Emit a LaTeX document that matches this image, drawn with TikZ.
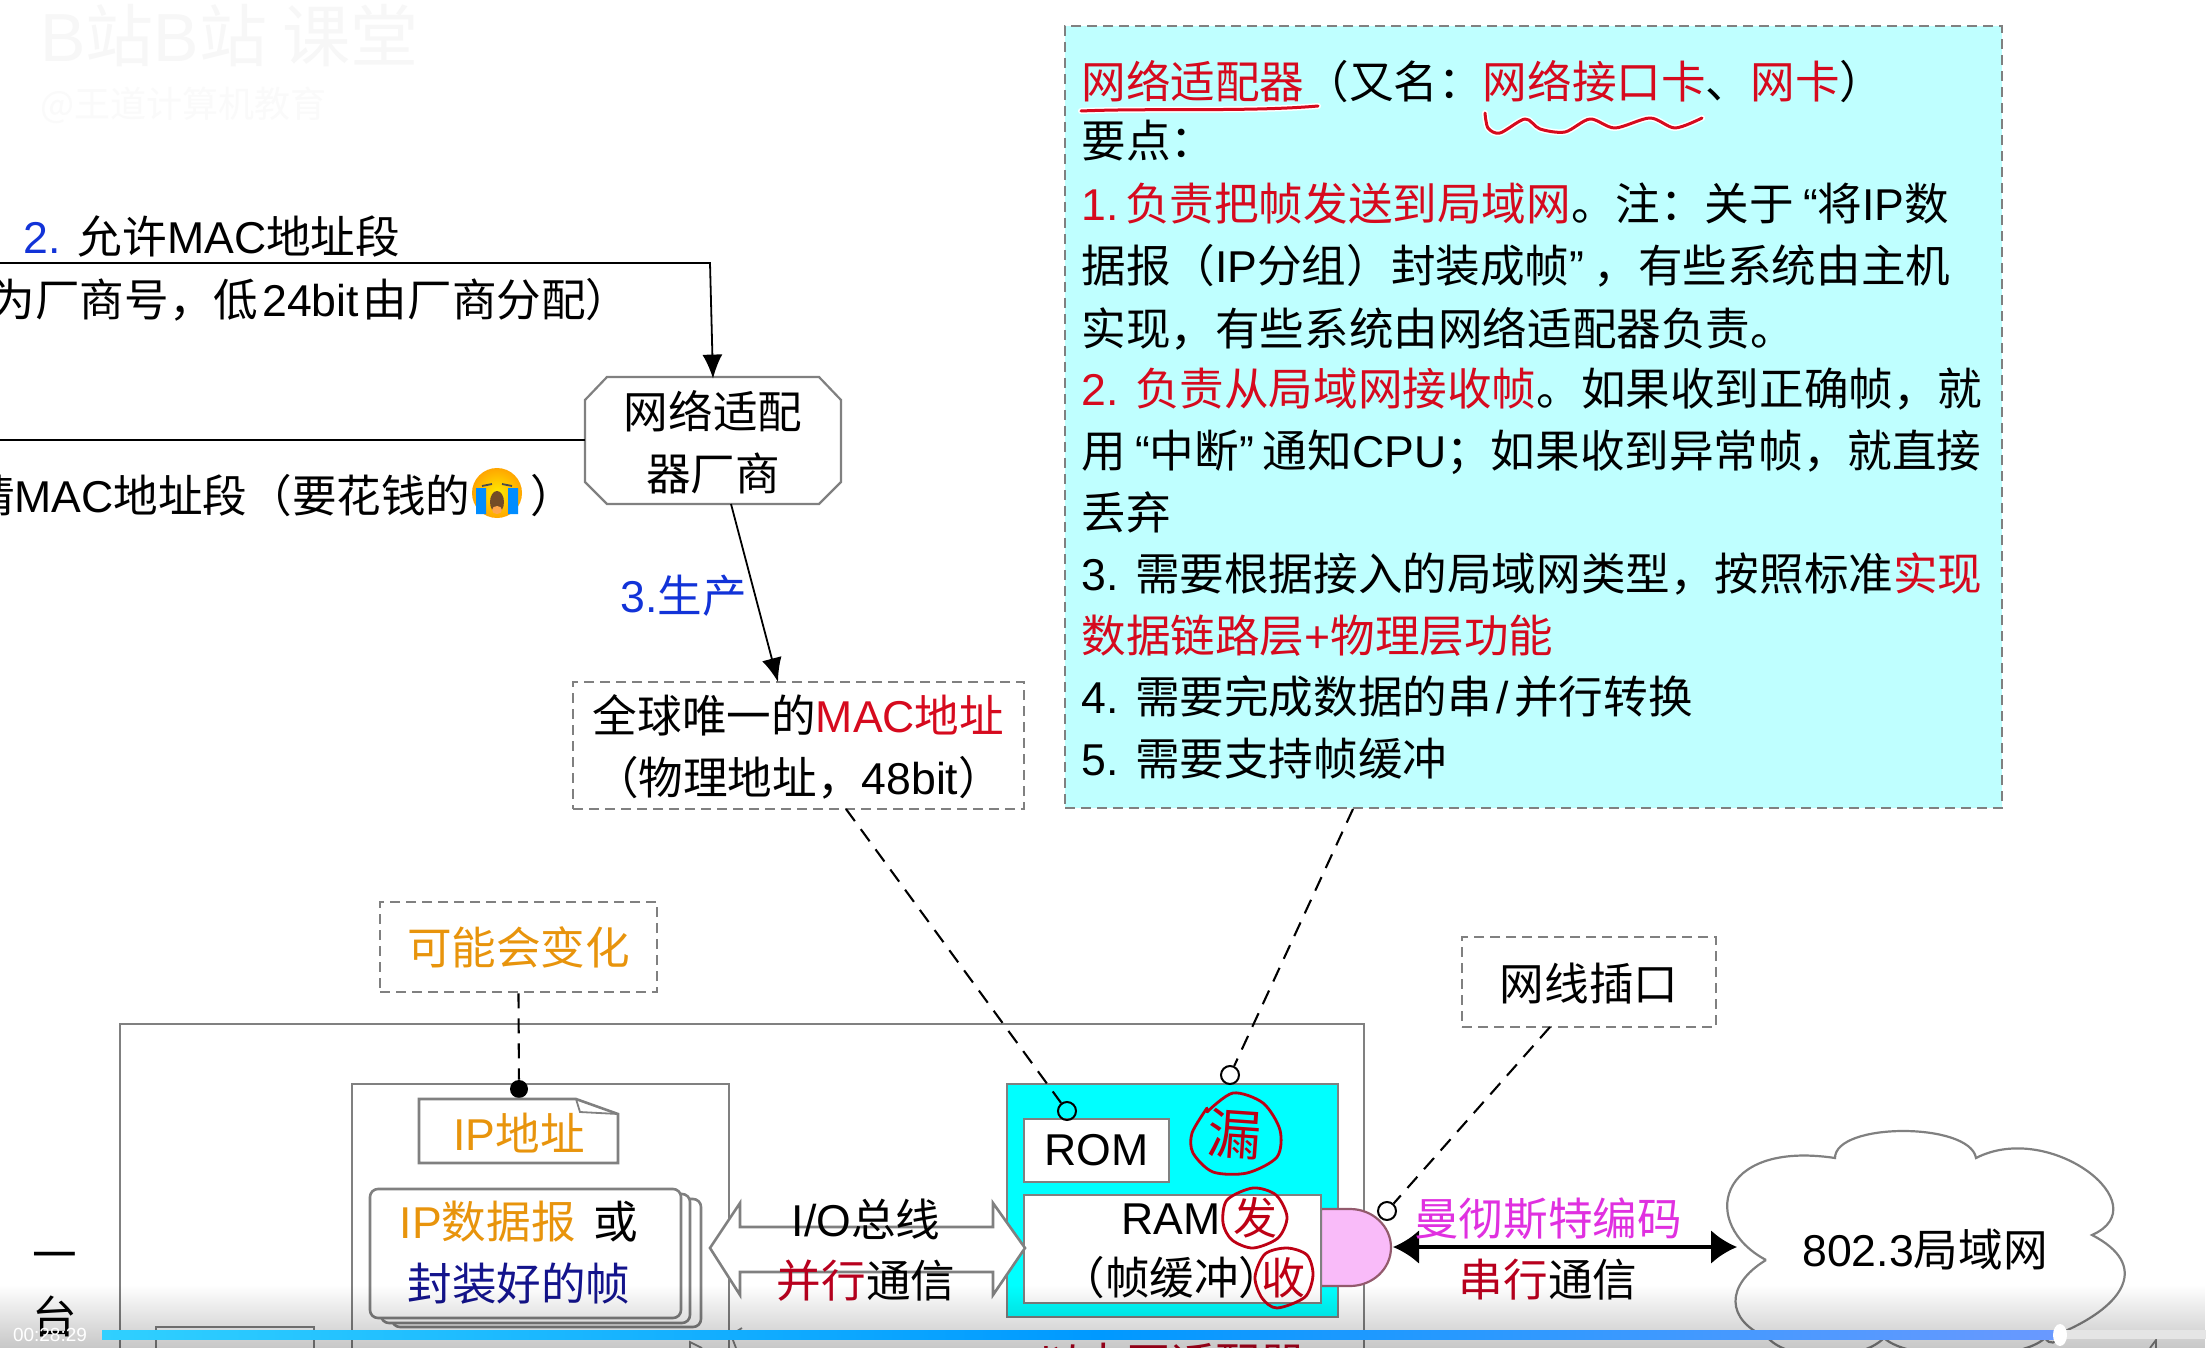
\documentclass[tikz,border=0pt]{standalone}
\usepackage{fontspec}
\setmainfont{Noto Sans CJK SC}
\newfontfamily\latf{Liberation Sans}
\usetikzlibrary{arrows.meta,fadings}
\definecolor{pred}{HTML}{D60A1E}
\definecolor{dred}{HTML}{B8001E}
\definecolor{hred}{HTML}{BE0014}
\definecolor{porange}{HTML}{E8940C}
\definecolor{pblue}{HTML}{1233D8}
\definecolor{pnavy}{HTML}{14148C}
\definecolor{pmag}{HTML}{E030E0}
\definecolor{pgray}{HTML}{808080}
\definecolor{panelc}{HTML}{BFFFFF}
\definecolor{adaptc}{HTML}{00FFFF}
\definecolor{plugc}{HTML}{F9BBF9}
\definecolor{bara}{HTML}{30D0FF}
\definecolor{barb}{HTML}{0099FF}
\definecolor{barc}{HTML}{6A99FF}
\newcommand{\Lat}[1]{{\latf #1}}
\newcommand{\fz}{\fontsize{22.3}{31}\selectfont}
\newcommand{\oq}{\hspace{4.5pt}\Lat{“}}
\newcommand{\cq}{\Lat{”}\hspace{4.5pt}}
\tikzfading[name=bfade, top color=transparent!100, bottom color=transparent!78]
\tikzset{
  tl/.style={inner sep=0pt,font=\fz,anchor=base west},
  tr/.style={inner sep=0pt,font=\fz,anchor=base east},
  tc/.style={inner sep=0pt,font=\fz,anchor=base},
  dbox/.style={draw=pgray,line width=1.25pt,dash pattern=on 5pt off 3pt,inner sep=0pt,align=center,font=\fz},
  sbox/.style={draw=pgray,line width=1.3pt},
  dline/.style={black,line width=1.05pt,dash pattern=on 7.5pt off 5pt},
  arrowl/.style={black,line width=0.9pt,-{Latex[length=12pt,width=10pt]}},
  ring/.style={circle,draw=black,line width=1pt,minimum size=9pt,inner sep=0pt},
  hand/.style={draw=hred,line width=1.4pt,line cap=round,line join=round},
  handtext/.style={inner sep=0pt,text=hred,anchor=center},
}
\begin{document}
\begin{tikzpicture}[x=0.5pt,y=-0.5pt]
\useasboundingbox (0,0) rectangle (2206,1348);
\clip (0,0) rectangle (2206,1348);
\fill[white] (0,0) rectangle (2206,1348);

% faint watermark
\node[tl,text=black!3,font=\fontsize{34}{34}\selectfont] (wm1) at (40,62) {\Lat{B}站\Lat{B}站 课堂};
\node[tl,text=black!2,font=\fontsize{18}{18}\selectfont] (wm2) at (40,118) {@王道计算机教育};

% upper left
\coordinate (free1) at (0,263);
\coordinate (turn1) at (710,263);
\coordinate (free2) at (0,440);
\node[inner sep=0pt,minimum width=128pt,minimum height=63.5pt,align=center,font=\fz] (maker) at (713,442.5) {\phantom{网络适配}\\\phantom{器厂商}};
\draw[draw=pgray,line width=1.1pt,fill=white] (607,377) -- (819,377) -- (841,400) -- (841,482) -- (819,504) -- (607,504) -- (585,482) -- (585,400) -- cycle;
\node[inner sep=0pt,align=center,font=\fz] (makertext) at (713,442.5) {网络适配\\器厂商};
\draw[black,line width=0.9pt] (free2) -- (maker.west |- free2);
\draw[arrowl] (free1) -- (turn1) -- (maker.north);
\node[tl] (t2) at (23,254) {\textcolor{pblue}{\Lat{2.}}\hspace{2pt} 允许\Lat{MAC}地址段};
\node[tr] (t3) at (631,316) {为厂商号，低\hspace{2pt}\Lat{24bit}\hspace{2pt}由厂商分配）};
\node[tr] (t4) at (471,512) {请\Lat{MAC}地址段（要花钱的};
\node[tl] (t5) at (530,512) {）};
% crying face
\shade[inner color=yellow!85!orange,outer color=orange!70!yellow] (497,493) circle[radius=25];
\draw[black!70,line width=0.9pt] (482,486) -- (492,484) (502,484) -- (512,486);
\fill[brown!60!black] (497,502) ellipse[x radius=7,y radius=11];
\fill[orange!70!white] (497,510) ellipse[x radius=5,y radius=4];
\fill[blue!45!cyan] (476,488) rectangle (486,514) (508,488) rectangle (518,514);

\node[tl,text=pblue] (t6) at (620,612) {\Lat{3.}生产};
\node[dbox,fill=white,minimum width=225.5pt,minimum height=63.5pt] (mac) at (798.5,745.5) {};
\node[inner sep=0pt,align=center,font=\fz] (mactext) at (798.5,747) {全球唯一的\textcolor{pred}{\Lat{MAC}地址}\\（物理地址，\Lat{48bit}）};
\coordinate (makerfoot) at (731,504);
\coordinate (macin) at (778,682);
\draw[arrowl] (makerfoot) -- (macin);

% info panel
\node[dbox,fill=panelc,minimum width=468.5pt,minimum height=391pt] (panel) at (1533.5,417) {};
\node[tl] (l1) at (1081,99) {\textcolor{pred}{网络适配器}（又名：\textcolor{pred}{网络接口卡}、\textcolor{pred}{网卡}）};
\node[tl] (l2) at (1081,158) {要点：};
\node[tl] (l3) at (1081,221) {\textcolor{pred}{\Lat{1.}\hspace{3.2pt}负责把帧发送到局域网}。注：关于\oq 将\Lat{IP}数};
\node[tl] (l4) at (1081,283) {据报（\Lat{IP}分组）封装成帧\cq，有些系统由主机};
\node[tl] (l5) at (1081,345) {实现，有些系统由网络适配器负责。};
\node[tl] (l6) at (1081,405) {\textcolor{pred}{\Lat{2. }负责从局域网接收帧}。如果收到正确帧，就};
\node[tl] (l7) at (1081,467) {用\oq 中断\cq 通知\Lat{CPU}；如果收到异常帧，就直接};
\node[tl] (l8) at (1081,529) {丢弃};
\node[tl] (l9) at (1081,590) {\Lat{3. }需要根据接入的局域网类型，按照标准\textcolor{pred}{实现}};
\node[tl,text=pred] (l10) at (1081,652) {数据链路层\Lat{+}物理层功能};
\node[tl] (l11) at (1081,713) {\Lat{4. }需要完成数据的串\hspace{2.5pt}\Lat{/}\hspace{2.5pt}并行转换};
\node[tl] (l12) at (1081,775) {\Lat{5. }需要支持帧缓冲};
% handwriting under the heading
\draw[white,line width=3pt,line cap=round] (1081,111) .. controls (1150,108) and (1250,112) .. (1318,106);
\draw[pred,line width=1.5pt,line cap=round] (1081,111) .. controls (1150,108) and (1250,112) .. (1318,106);
\draw[white,line width=3pt,line cap=round,line join=round] plot[smooth] coordinates {(1485,113)(1488,128)(1500,133)(1525,119)(1540,129)(1565,132)(1590,119)(1615,128)(1650,118)(1675,128)(1702,118)};
\draw[pred,line width=1.5pt,line cap=round,line join=round] plot[smooth] coordinates {(1485,113)(1488,128)(1500,133)(1525,119)(1540,129)(1565,132)(1590,119)(1615,128)(1650,118)(1675,128)(1702,118)};

% host box
\draw[sbox,line width=1.1pt] (120,1360) -- (120,1024) -- (1364,1024) -- (1364,1360);
\draw[sbox,line width=1.1pt] (352,1360) -- (352,1084) -- (729,1084) -- (729,1360);
\draw[sbox] (156,1360) -- (156,1327) -- (314,1327) -- (314,1360);
\node[tc] (yi) at (55,1271) {一};
\node[tc] (tai) at (55,1333) {台};

% changing note
\node[dbox,fill=white,minimum width=138.5pt,minimum height=45pt,text=porange] (maychange) at (518.5,947) {可能会变化};
\node[circle,fill=black,minimum size=9pt,inner sep=0pt] (ipdot) at (519,1089) {};
\draw[dline] (maychange.south) -- (ipdot);

% IP address document
\draw[sbox,fill=white] (419,1163) -- (419,1099) -- (576,1099) -- (618,1114) -- (618,1163) -- cycle;
\draw[sbox,line width=0.9pt] (576,1099) -- (580,1112) -- (618,1114);
\node[tc,text=porange] (ipaddr) at (519,1150) {\Lat{IP}地址};

% stacked frames
\draw[sbox,fill=white,rounded corners=4pt] (392,1199) rectangle (701,1327);
\draw[sbox,fill=white,rounded corners=4pt] (381,1194) rectangle (690,1323);
\draw[sbox,fill=white,rounded corners=4pt] (370,1189) rectangle (681,1318);
\node[tc] (frame1) at (519,1238) {\textcolor{porange}{\Lat{IP}数据报}\hspace{0.4em}或};
\node[tc,text=pnavy] (frame2) at (519,1300) {封装好的帧};
% small pieces below the frames
\draw[sbox,line width=0.9pt] (742,1328) -- (731,1335) -- (736,1348);
\draw[sbox,line width=0.9pt] (702,1348) -- (690,1342) -- (690,1348);

% adapter
\node[draw=pgray,line width=1.4pt,fill=adaptc,minimum width=165.5pt,minimum height=116.5pt,inner sep=0pt] (adapter) at (1172.5,1200.5) {};
\node[draw=pgray,line width=1.1pt,fill=white,minimum width=72.5pt,minimum height=31.5pt,inner sep=0pt,font=\fz\latf] (rom) at (1096.5,1150.5) {ROM};
\draw[draw=pgray!70!purple,line width=1.1pt,fill=plugc] (1321,1209) -- (1350,1209) arc[start angle=-90,end angle=0,x radius=41,y radius=38.5] arc[start angle=0,end angle=90,x radius=41,y radius=38.5] -- (1321,1286) -- cycle;
\node[draw=pgray,line width=1.1pt,fill=white,minimum width=148.5pt,minimum height=54pt,inner sep=0pt] (ram) at (1172.5,1249) {};
\node[tc] (ram1) at (1171,1234) {\Lat{RAM}};
\node[tc] (ram2) at (1172,1294) {（帧缓冲）};

% I/O bus arrow
\draw[sbox,fill=white,line join=miter] (710,1248) -- (740,1203) -- (740,1227) -- (993,1227) -- (993,1203) -- (1025,1248) -- (993,1295) -- (993,1272) -- (740,1272) -- (740,1295) -- cycle;
\node[tc] (io) at (866,1236) {\Lat{I/O}总线};
\node[tc] (par) at (866,1297) {\textcolor{dred}{并行}通信};

% rings and leaders
\node[ring] (romring) at (1067,1111) {};
\node[ring] (topring) at (1230,1075) {};
\node[ring] (plugring) at (1387,1211) {};
\coordinate (macfoot) at (846,809);
\coordinate (panelfoot) at (1353,809);
\draw[dline] (macfoot) -- (romring);
\draw[dline] (panelfoot) -- (topring);
\node[dbox,fill=white,minimum width=127pt,minimum height=45pt] (rj) at (1589,982) {};
\node[inner sep=0pt,font=\fz] (rjtext) at (1589,984) {网线插口};
\coordinate (rjfoot) at (1550,1027);
\draw[dline] (rjfoot) -- (plugring);

% red marks
\draw[hand] plot[smooth] coordinates {(1207,1112)(1233,1093)(1263,1103)(1280,1130)(1277,1157)(1247,1173)(1213,1172)(1193,1153)(1192,1133)(1207,1108)};
\node[handtext,font=\fontsize{27}{27}\selectfont,rotate=-4] (lou) at (1235,1134) {漏};
\draw[hand] plot[smooth cycle] coordinates {(1227,1200)(1253,1188)(1276,1195)(1287,1217)(1278,1238)(1253,1248)(1232,1240)(1223,1223)};
\node[handtext,font=\fontsize{22}{22}\selectfont] (fa) at (1255,1218) {发};
\draw[hand] plot[smooth cycle] coordinates {(1265,1254)(1287,1248)(1307,1255)(1313,1275)(1305,1297)(1277,1308)(1262,1298)(1255,1277)};
\node[handtext,font=\fontsize{22}{22}\selectfont] (shou) at (1283,1278) {收};

% serial link
\coordinate (linkl) at (1393,1247);
\coordinate (linkr) at (1737,1247);
\draw[black,line width=2pt,{Latex[length=13pt,width=17pt]}-{Latex[length=13pt,width=17pt]}] (linkl) -- (linkr);
\node[tc,text=pmag] (man) at (1548,1235) {曼彻斯特编码};
\node[tc] (ser) at (1548,1296) {\textcolor{dred}{串行}通信};

% cloud
\draw[sbox,line width=1.1pt,fill=white] (1766,1260)
  .. controls (1700,1225) and (1715,1140) .. (1835,1158)
  .. controls (1835,1122) and (1970,1122) .. (1976,1158)
  .. controls (2050,1120) and (2160,1205) .. (2092,1235)
  .. controls (2150,1265) and (2125,1305) .. (2063,1332)
  .. controls (2055,1345) and (2050,1345) .. (2045,1338)
  .. controls (2020,1362) and (1910,1362) .. (1884,1338)
  .. controls (1860,1362) and (1790,1362) .. (1768,1338)
  .. controls (1725,1320) and (1725,1285) .. (1766,1260);
\node[tc,font=\fz] (lan) at (1925,1266) {\Lat{802.3}局域网};
\draw[sbox,line width=0.9pt] (2150,1348) -- (2156,1340) -- (2156,1348);

% cut-off caption
\node[tc,text=dred] (caption) at (1171,1380) {以太网适配器};

% video player strip
\fill[black,path fading=bfade] (0,1285) rectangle (2206,1348);
\fill[white!90!black] (2060,1330) rectangle (2206,1339);
\shade[left color=bara,right color=barb] (102,1330) rectangle (1100,1339);
\shade[left color=barb,right color=barc] (1100,1330) rectangle (2060,1339);
\fill[white] (2060,1335) ellipse[x radius=7,y radius=11];
\node[inner sep=0pt,text=white,font=\latf\fontsize{9.5}{9.5}\selectfont] (clock) at (50,1335) {00:28:29};
\end{tikzpicture}
\end{document}
